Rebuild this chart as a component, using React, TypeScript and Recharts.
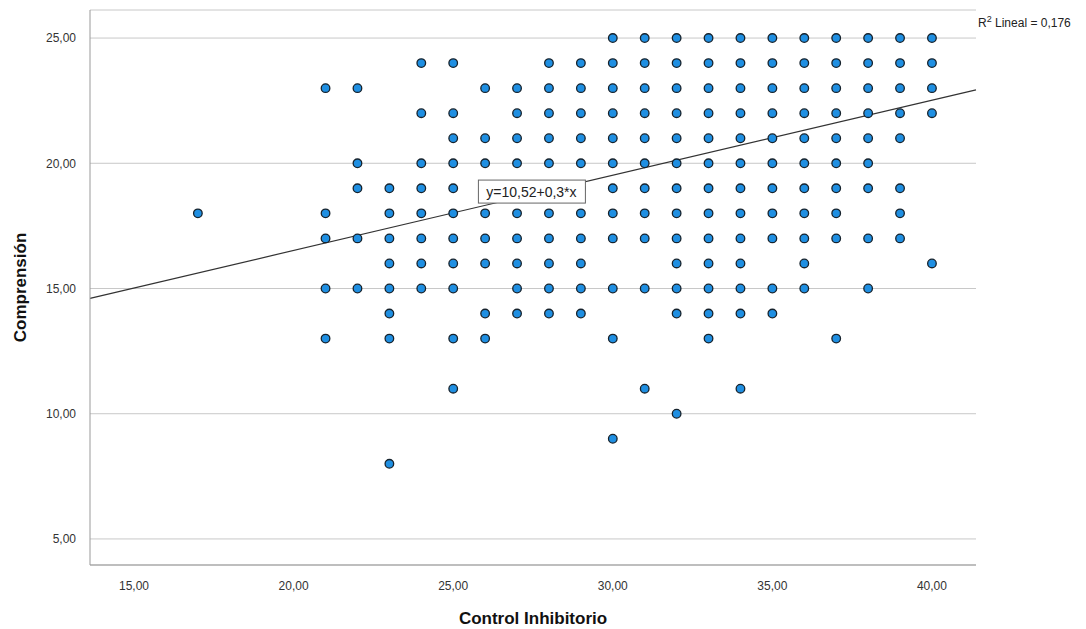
import React from "react";
import {
  ScatterChart,
  Scatter,
  XAxis,
  YAxis,
  CartesianGrid,
  ReferenceLine,
  ReferenceDot,
} from "recharts";

// Control Inhibitorio scores (x) and the Comprensión scores seen at each of them
const xValues = [17, 21, 22, 23, 24, 25, 26, 27, 28, 29, 30, 31, 32, 33, 34, 35, 36, 37, 38, 39, 40];
const yByX: number[][] = [
  [18],
  [23, 18, 17, 15, 13],
  [23, 20, 19, 17, 15],
  [19, 18, 17, 16, 15, 14, 13, 8],
  [24, 22, 20, 19, 18, 17, 16, 15],
  [24, 22, 21, 20, 19, 18, 17, 16, 15, 13, 11],
  [23, 21, 20, 19, 18, 17, 16, 14, 13],
  [23, 22, 21, 20, 19, 18, 17, 16, 15, 14],
  [24, 23, 22, 21, 20, 19, 18, 17, 16, 15, 14],
  [24, 23, 22, 21, 20, 19, 18, 17, 16, 15, 14],
  [25, 24, 23, 22, 21, 20, 19, 18, 17, 15, 13, 9],
  [25, 24, 23, 22, 21, 20, 19, 18, 17, 15, 11],
  [25, 24, 23, 22, 21, 20, 19, 18, 17, 16, 15, 14, 10],
  [25, 24, 23, 22, 21, 20, 19, 18, 17, 16, 15, 14, 13],
  [25, 24, 23, 22, 21, 20, 19, 18, 17, 16, 15, 14, 11],
  [25, 24, 23, 22, 21, 20, 19, 18, 17, 15, 14],
  [25, 24, 23, 22, 21, 20, 19, 18, 17, 16, 15],
  [25, 24, 23, 22, 21, 20, 19, 18, 17, 13],
  [25, 24, 23, 22, 21, 20, 19, 17, 15],
  [25, 24, 23, 22, 21, 19, 18, 17],
  [25, 24, 23, 22, 16],
];

const xTicks = [15, 20, 25, 30, 35, 40];
const yTicks = [5, 10, 15, 20, 25];
const xDomain = [13.62, 41.38];
const yDomain = [3.96, 26.12];

// linear fit reported by SPSS
const intercept = 10.52;
const slope = 0.3;

const points = xValues.flatMap((x, i) => yByX[i].map((y) => ({ x, y })));

const fmt = (v: number) => v.toFixed(2).replace(".", ",");

const FONT = "'Liberation Sans', Arial, sans-serif";

function Dot(props: any) {
  const { cx, cy } = props;
  return <circle cx={cx} cy={cy} r={4.3} fill="#1f8fe2" stroke="#16222c" strokeWidth={1.3} />;
}

function EquationBox(props: any) {
  const { cx, cy } = props;
  return (
    <g>
      <rect x={cx - 53} y={cy - 12} width={107} height={23} fill="#fff" stroke="#666" strokeWidth={1} />
      <text x={cx} y={cy + 5} textAnchor="middle" fontSize={14} fontFamily={FONT} fill="#222">
        y=10,52+0,3*x
      </text>
    </g>
  );
}

function YTitle(props: any) {
  const { viewBox } = props;
  const cy = viewBox.y + viewBox.height / 2;
  return (
    <text
      x={12}
      y={cy}
      transform={`rotate(-90 12 ${cy})`}
      textAnchor="middle"
      dominantBaseline="central"
      fontSize={17}
      fontWeight="bold"
      fill="#111"
      fontFamily={FONT}
    >
      Comprensión
    </text>
  );
}

export default function App() {
  return (
    <div style={{ position: "relative", width: 1070, height: 621, fontFamily: FONT }}>
      <ScatterChart width={1070} height={621} margin={{ top: 2, right: 102, bottom: 0, left: 0 }}>
        <CartesianGrid horizontal vertical={false} stroke="#c8c8c8" strokeWidth={1} />
        <XAxis
          type="number"
          dataKey="x"
          domain={xDomain}
          ticks={xTicks}
          allowDataOverflow
          tickFormatter={fmt}
          tickLine={false}
          axisLine={{ stroke: "#999" }}
          height={64}
          tickMargin={10}
          tick={{ fontSize: 12, fill: "#333", fontFamily: FONT }}
          label={{
            value: "Control Inhibitorio",
            position: "insideBottom",
            offset: 5,
            style: { fontSize: 17, fontWeight: "bold", fill: "#111", fontFamily: FONT },
          }}
        />
        <YAxis
          type="number"
          dataKey="y"
          domain={yDomain}
          ticks={yTicks}
          allowDataOverflow
          tickFormatter={fmt}
          tickLine={false}
          axisLine={{ stroke: "#999" }}
          width={82}
          tickMargin={8}
          tick={{ fontSize: 12, fill: "#333", fontFamily: FONT }}
          label={<YTitle />}
        />
        <Scatter data={points} shape={<Dot />} isAnimationActive={false} />
        <ReferenceLine
          segment={[
            { x: xDomain[0], y: intercept + slope * xDomain[0] },
            { x: xDomain[1], y: intercept + slope * xDomain[1] },
          ]}
          stroke="#333"
          strokeWidth={1.2}
          ifOverflow="visible"
        />
        <ReferenceDot x={27.45} y={18.85} ifOverflow="visible" shape={<EquationBox />} />
      </ScatterChart>
      <div
        style={{
          position: "absolute",
          left: 970,
          top: 6,
          fontSize: 12,
          color: "#222",
          whiteSpace: "nowrap",
        }}
      >
        R<sup style={{ fontSize: 9 }}>2</sup> Lineal = 0,176
      </div>
    </div>
  );
}
